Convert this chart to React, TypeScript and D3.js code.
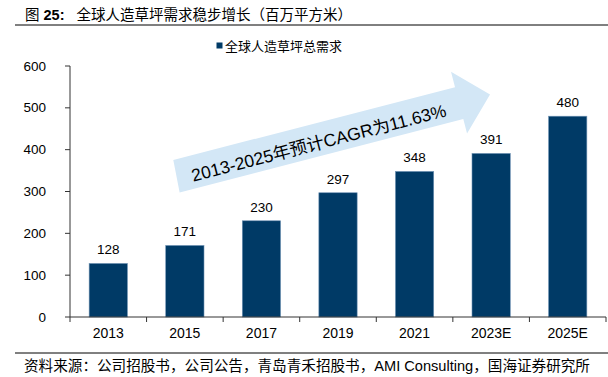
import React from "react";
import * as d3 from "d3";

const categories = ["2013", "2015", "2017", "2019", "2021", "2023E", "2025E"];
const demand = [128, 171, 230, 297, 348, 391, 480];
const yTicks = [0, 100, 200, 300, 400, 500, 600];
const titleText = "全球人造草坪需求稳步增长（百万平方米）";
const legendLabel = "全球人造草坪总需求";
const arrowLabel = "2013-2025年预计CAGR为11.63%";
const sourceText = "资料来源：公司招股书，公司公告，青岛青禾招股书，AMI Consulting，国海证券研究所";

const W = 608;
const H = 377;
const M = { left: 70, right: 606, top: 66, bottom: 317 };
const BAR = "#003a66";
const LATIN = "'Liberation Sans', Arial, sans-serif";
const CJK = "'Liberation Sans', 'Noto Sans CJK SC', sans-serif";

export default function App() {
  const x = d3.scaleBand<string>().domain(categories).range([M.left, M.right]).paddingInner(0.5).paddingOuter(0.25);
  const y = d3.scaleLinear().domain([0, 600]).range([M.bottom, M.top]);
  const step = x.step();
  const boundaries = d3.range(categories.length + 1).map((i) => M.left + i * step);

  // arrow in a local rotated frame
  const arrowPts: [number, number][] = [
    [0, 0], [291, 0], [291, -16], [323, 16], [291, 48], [291, 33], [-2, 33],
  ];
  const arrowPath = d3.line()(arrowPts) + "Z";

  return (
    <svg width={W} height={H} style={{ position: "absolute", left: 0, top: 0, background: "#fff" }}>
      {/* title */}
      <text x={25} y={20} fontFamily={CJK} fontSize={14.5} fill="#000">
        <tspan>图 </tspan>
        <tspan fontWeight="bold" fontFamily={LATIN}>25:</tspan>
        <tspan dx={12}>{titleText}</tspan>
      </text>
      <line x1={15} x2={608} y1={25} y2={25} stroke="#000" strokeWidth={1} />

      {/* legend */}
      <rect x={216.5} y={42.5} width={6} height={6} fill={BAR} />
      <text x={225} y={50.5} fontFamily={CJK} fontSize={13} fill="#000">{legendLabel}</text>

      {/* arrow */}
      <g transform="translate(173.3,160) rotate(-14.5)">
        <path d={arrowPath} fill="#d3e7f6" />
        <text x={14} y={26} fontFamily={CJK} fontSize={17.5} fill="#000">{arrowLabel}</text>
      </g>

      {/* bars */}
      {categories.map((c, i) => (
        <g key={c}>
          <rect x={x(c)} y={y(demand[i])} width={x.bandwidth()} height={y(0) - y(demand[i])} fill={BAR} stroke="#6f93b5" strokeWidth={0.6} />
          <text x={(x(c) as number) + x.bandwidth() / 2} y={y(demand[i]) - 9} textAnchor="middle" fontFamily={LATIN} fontSize={13.5} fill="#000">{demand[i]}</text>
        </g>
      ))}

      {/* y axis */}
      <line x1={M.left} x2={M.left} y1={M.top} y2={M.bottom} stroke="#333" strokeWidth={1} />
      {yTicks.map((t) => (
        <g key={t}>
          <line x1={M.left - 5} x2={M.left} y1={y(t)} y2={y(t)} stroke="#333" strokeWidth={1} />
          <text x={46} y={y(t) + 4.5} textAnchor="end" fontFamily={LATIN} fontSize={13.5} fill="#000">{t}</text>
        </g>
      ))}

      {/* x axis */}
      <line x1={M.left} x2={M.right} y1={M.bottom} y2={M.bottom} stroke="#333" strokeWidth={1} />
      {boundaries.map((b, i) => (
        <line key={i} x1={b} x2={b} y1={M.bottom} y2={M.bottom + 5} stroke="#333" strokeWidth={1} />
      ))}
      {categories.map((c) => (
        <text key={c} x={(x(c) as number) + x.bandwidth() / 2} y={338} textAnchor="middle" fontFamily={LATIN} fontSize={14} fill="#000">{c}</text>
      ))}

      {/* source */}
      <line x1={15} x2={608} y1={353} y2={353} stroke="#000" strokeWidth={1} />
      <text x={24} y={371} fontFamily={CJK} fontSize={14.6} fill="#000">{sourceText}</text>
    </svg>
  );
}
